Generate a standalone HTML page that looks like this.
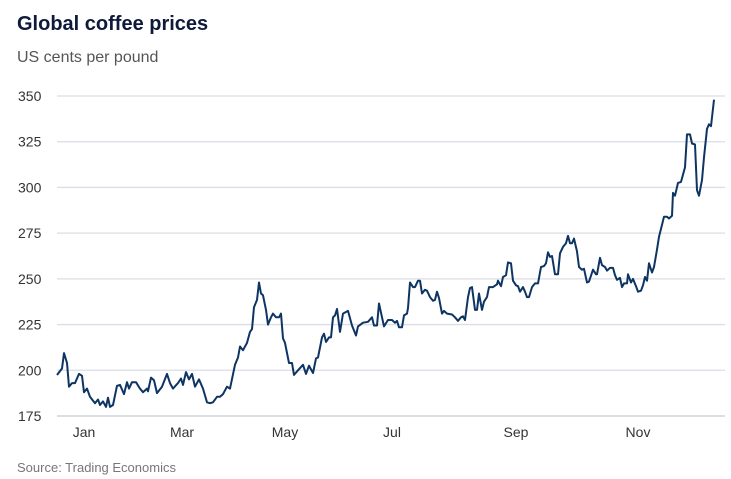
<!DOCTYPE html>
<html><head><meta charset="utf-8"><style>
body{margin:0;background:#fff;width:731px;height:479px;overflow:hidden;font-family:"Liberation Sans",sans-serif}
svg{display:block}
</style></head><body>
<svg width="731" height="479">
<text x="17" y="30" font-size="20" font-weight="bold" fill="#0f1a3a">Global coffee prices</text>
<text x="17" y="62" font-size="16" fill="#555">US cents per pound</text>
<g id="grid"></g><g id="xl"></g>
<path id="line" fill="none" stroke="#0d3463" stroke-width="2" stroke-linejoin="round"/>
<text x="17" y="472" font-size="13" fill="#777">Source: Trading Economics</text>
</svg>
<script>
const yTicks=[175,200,225,250,275,300,325,350];
const monthLabels=["Jan","Mar","May","Jul","Sep","Nov"];
const monthDays=[13.5,62.5,114,167.5,229.5,290.5];
const days=[0,2.5,3.5,5,6,7.5,9,11,12.5,13.5,15,16.5,19,20.5,21.5,23,24.5,25.5,26.5,28,30,31.5,33.5,35,36,37.5,39.5,41.5,43,45,45.5,47,48.5,50,52.5,55,56.5,58,60.5,62,63,64.5,66,67.5,69,71,73,75,76.5,78,80,81.5,83,85,86.5,89,90.5,91.5,93,95,96.5,97.5,98.5,100,101,102,103,104.5,105.5,107,108,109.5,111,112,113,
114,116,117.5,118.5,120.5,123,124.5,126,128,129.5,130.5,132.5,133.5,134.5,136,137,138,139,140,141.5,143,145.5,147.5,149.5,150.5,153,155.5,157.5,158.5,160,161,162.5,163.5,165.5,167.5,169,170,171,172.5,173.5,175,175.5,176.5,178,179,180.5,181.5,182.5,184,185,186.5,188,189,190,191,192.5,193.5,195,197.5,199,200.5,202,203,204,205.5,206.5,207.5,209,210,211,212.5,213.5,215,216,218,220,
220.5,222,223,224.5,225.5,227,228,229.5,230.5,231.5,233,234,235,236,237.5,239,240.5,242,243.5,244.5,245.5,246.5,247.5,249,250.5,251.5,253,254.5,255.5,256.5,257.5,258.5,260,261,262.5,263.5,265,266,268,269.5,270,271.5,272.5,274,275,276.5,278,279,280,281.5,282.5,283.5,285,285.5,287,288,289.5,290.5,292,293,294,295,296,297.5,298.5,300,301,302.5,303.5,305,306,307.5,308,309,310.5,312,313,314,315,316.5,317.5,319,320,321,322.5,323.5,325,326,327,328.5];
const prices=[197.4,201,209.4,204,191,193,193,198,197,188,190,185.5,182,184,181,183,180,185,180,181,191.5,192,187,193.5,190,193.5,193.5,190,188,190,188.5,196,194.5,187.5,191,198,193,190,193,195.5,192,199,195,198,191,195,190,182.5,182,182.5,185.5,185.5,187,191,190,203,207,213,211,215,221,222.5,234.5,238.5,248,242,241,233,225,229,231,229,229,231,217.5,
215,204,204,197.5,200,203,198,202.5,198.5,206.5,207,218,220,215.5,218,218,229,230,233.5,221,231,232.5,224.5,219,224,226,226.5,229,224.5,224.5,236.5,229,224,227.5,227.5,226,227,223.5,223.5,230,231,234,248,245.5,245.5,249,249,242,244,243.5,240,238,238.5,243,239.5,231,232.5,231,230.5,229,227,229,229.5,227.5,240,245,245.5,233,233,242,233,237.5,240,245.5,245.5,247,
249,246,251,252,259,258.5,249,246.5,246,243,245.5,243,240,240,245.5,247.5,247.5,256.5,257,258.5,264.5,262,262.5,252.5,252.5,264,267.5,269.5,273.5,269.5,269.5,272,265,256.5,255,255.5,248,248.5,255,252.5,252.5,261.5,257.5,256.5,254.5,256,256,252,249.5,250.5,245.5,247.5,247.5,252.5,248,250,246,243,243.5,246.5,251,249,258.5,253.5,256.5,266,273,279.5,284,284,283,284.5,297,295.5,302.5,303,307,311,329,329,324,323.5,298.5,295.5,304,316.5,332,334.5,333.5,348];
const NS="http://www.w3.org/2000/svg";
const x0=57,x1=714,yTop=96,yBot=416,dMax=328.5;
const yS=v=>yBot-(v-175)/(350-175)*(yBot-yTop);
const xS=d=>x0+d/dMax*(x1-x0);
const g=document.getElementById('grid');
yTicks.forEach(t=>{
 const l=document.createElementNS(NS,'line');
 l.setAttribute('x1',57);l.setAttribute('x2',725);l.setAttribute('y1',yS(t));l.setAttribute('y2',yS(t));
 l.setAttribute('stroke',t===175?'#c8cad6':'#dcdee6');l.setAttribute('stroke-width',1.3);
 
 
 g.appendChild(l);
 const tx=document.createElementNS(NS,'text');
 tx.setAttribute('x',18);tx.setAttribute('y',yS(t)+5);tx.setAttribute('font-size',14);tx.setAttribute('fill','#333');
 tx.textContent=t;
 
 
 g.appendChild(tx);
});
const xl=document.getElementById('xl');
monthLabels.forEach((m,k)=>{
 const tx=document.createElementNS(NS,'text');
 tx.setAttribute('x',xS(monthDays[k]));tx.setAttribute('y',437);tx.setAttribute('font-size',14);tx.setAttribute('fill','#333');tx.setAttribute('text-anchor','middle');
 tx.textContent=m;
 
 
 xl.appendChild(tx);
});
document.getElementById('line').setAttribute('d',prices.map((v,i)=>(i?'L':'M')+xS(days[i]).toFixed(1)+','+yS(v).toFixed(1)).join(''));
</script>
</body></html>
